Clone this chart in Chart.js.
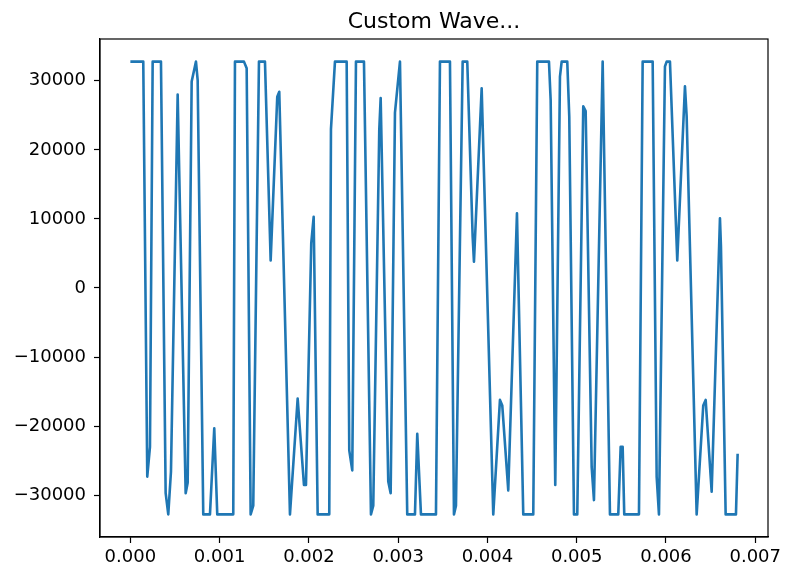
<!DOCTYPE html>
<html>
<head>
<meta charset="utf-8">
<title>Custom Wave...</title>
<script src="https://cdn.jsdelivr.net/npm/chart.js@4/dist/chart.umd.min.js"></script>
<style>
    html, body { margin: 0; padding: 0; background: #ffffff; }
    #waveChart { display: block; }
</style>
</head>
<body>
<canvas id="waveChart" width="786" height="571"></canvas>
<script>
// ===========================
// DATA
// ===========================

const chartTitle = "Custom Wave...";

// time of each vertex, in milliseconds
const timesMs = [
    0, 0.1445, 0.1893, 0.2196, 0.2498, 0.3428, 0.3954, 0.4246, 0.4548, 0.5299,
    0.6195, 0.6419, 0.6867, 0.7349, 0.7539, 0.8166, 0.8917, 0.9398, 0.9735, 1.1527,
    1.1717, 1.2725, 1.3028, 1.3476, 1.3767, 1.4406, 1.5078, 1.5716, 1.6456, 1.6680,
    1.7879, 1.8741, 1.9447, 1.9671, 2.0264, 2.0533, 2.0981, 2.2281, 2.2471, 2.2919,
    2.4230, 2.4521, 2.4857, 2.5272, 2.6168, 2.6952, 2.7210, 2.7882, 2.8039, 2.8890,
    2.9159, 2.9641, 3.0201, 3.1018, 3.1881, 3.2139, 3.2553, 3.4233, 3.4681, 3.5801,
    3.6250, 3.6474, 3.7224, 3.7740, 3.8345, 3.8490, 3.9353, 4.0652, 4.1403, 4.1660,
    4.2332, 4.3307, 4.4013, 4.5133, 4.5581, 4.6892, 4.7082, 4.7597, 4.8124, 4.8314,
    4.8942, 4.9166, 4.9692, 5.0062, 5.0734, 5.1003, 5.1675, 5.1932, 5.2907, 5.3725,
    5.4655, 5.4923, 5.5147, 5.5327, 5.6973, 5.7388, 5.8508, 5.8956, 5.9214, 5.9886,
    6.0076, 6.0446, 6.1264, 6.2126, 6.2317, 6.3437, 6.4176, 6.4445, 6.5117, 6.6047,
    6.6159, 6.6685, 6.7839, 6.8027
];

// amplitude at each vertex (16 bit, clipped)
const amplitudes = [
    32767, 32767, -27300, -23000, 32767, 32767, -29700, -32768, -26600, 28000,
    -29700, -28200, 29900, 32767, 30100, -32768, -32768, -20300, -32768, -32768,
    32767, 32767, 31800, -32768, -31500, 32767, 32767, 4000, 27700, 28400,
    -32768, -16000, -28500, -28500, 6500, 10300, -32768, -32768, 23000, 32767,
    32767, -23500, -26400, 32767, 32767, -32768, -31500, 22900, 27500, -28000,
    -29700, 25400, 32767, -32768, -32768, -21100, -32768, -32768, 32767, 32767,
    -32768, -31500, 32767, 32767, 7400, 3800, 28900, -32768, -16200, -17000,
    -29300, 10800, -32768, -32768, 32767, 32767, 27200, -28500, 30600, 32767,
    32767, 24800, -32768, -32768, 26300, 25600, -25900, -30700, 32767, -32768,
    -32768, -23000, -23000, -32768, -32768, 32767, 32767, -27300, -32768, 32070,
    32767, 32767, 4000, 29200, 24800, -32768, -17000, -16200, -29500, 10100,
    6000, -32768, -32768, -24000
];

const xTicks = [0, 0.001, 0.002, 0.003, 0.004, 0.005, 0.006, 0.007];
const yTicks = [-30000, -20000, -10000, 0, 10000, 20000, 30000];

// ===========================
// HELPER
// ===========================

const FONT = "'DejaVu Sans', 'Liberation Sans', sans-serif";

function formatY(value) {
    const s = String(Math.abs(value));
    return value < 0 ? "\u2212" + s : s;
}

// matplotlib style: 5% margin round the data
const tLast = timesMs[timesMs.length - 1] / 1000;
const yLow = -32768;
const yHigh = 32767;
const ySpan = yHigh - yLow;

// draws the top and right spines as well
const framePlugin = {
    id: "frame",
    afterDraw(chart) {
        const { ctx, chartArea } = chart;
        ctx.save();
        ctx.strokeStyle = "#000000";
        ctx.lineWidth = 1.2;
        ctx.strokeRect(chartArea.left, chartArea.top,
            chartArea.right - chartArea.left, chartArea.bottom - chartArea.top);
        ctx.restore();
    }
};

// ===========================
// CHART
// ===========================

const points = timesMs.map((t, i) => ({ x: t / 1000, y: amplitudes[i] }));

const ctx = document.getElementById("waveChart").getContext("2d");

new Chart(ctx, {
    type: "line",
    data: {
        datasets: [{
            data: points,
            borderColor: "#1f77b4",
            borderWidth: 2.6,
            borderJoinStyle: "round",
            pointRadius: 0,
            tension: 0,
            fill: false
        }]
    },
    options: {
        responsive: false,
        animation: false,
        devicePixelRatio: 1,
        layout: {
            padding: { left: 0, right: 18, top: 0, bottom: 0 }
        },
        plugins: {
            legend: { display: false },
            tooltip: { enabled: false },
            title: {
                display: true,
                text: chartTitle,
                fullSize: false,
                color: "#000000",
                font: { family: FONT, size: 22, weight: "normal", lineHeight: 1.2 },
                padding: { top: 9, bottom: 3.6 }
            }
        },
        scales: {
            x: {
                type: "linear",
                min: -0.05 * tLast,
                max: 1.05 * tLast,
                afterBuildTicks: scale => {
                    scale.ticks = xTicks.map(v => ({ value: v }));
                },
                afterFit: scale => {
                    scale.height = 34;
                },
                ticks: {
                    color: "#000000",
                    padding: 4,
                    maxRotation: 0,
                    autoSkip: false,
                    font: { family: FONT, size: 18 },
                    callback: value => value.toFixed(3)
                },
                grid: {
                    drawOnChartArea: false,
                    drawTicks: true,
                    tickLength: 6,
                    tickWidth: 1.2,
                    tickColor: "#000000"
                },
                border: { display: true, color: "#000000", width: 1.2 }
            },
            y: {
                type: "linear",
                min: yLow - 0.05 * ySpan,
                max: yHigh + 0.05 * ySpan,
                afterBuildTicks: scale => {
                    scale.ticks = yTicks.map(v => ({ value: v }));
                },
                afterFit: scale => {
                    scale.width = 100;
                },
                ticks: {
                    color: "#000000",
                    padding: 8,
                    autoSkip: false,
                    font: { family: FONT, size: 18 },
                    callback: value => formatY(value)
                },
                grid: {
                    drawOnChartArea: false,
                    drawTicks: true,
                    tickLength: 6,
                    tickWidth: 1.2,
                    tickColor: "#000000"
                },
                border: { display: true, color: "#000000", width: 1.2 }
            }
        }
    },
    plugins: [framePlugin]
});
</script>
</body>
</html>
